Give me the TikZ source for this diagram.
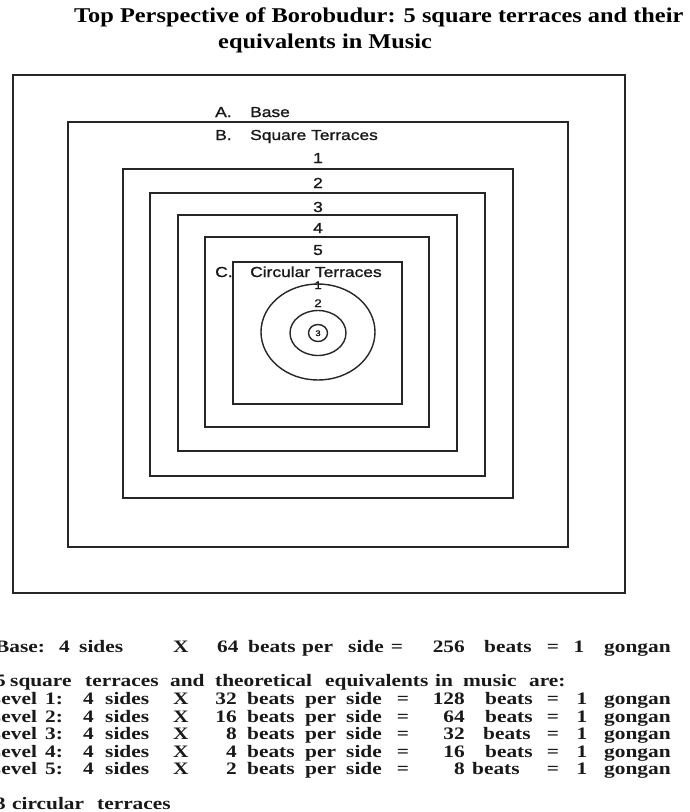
\documentclass[tikz,border=0pt]{standalone}
\usepackage{fontspec}
\newfontfamily\ttlfont[FakeStretch=1.16]{Liberation Serif}
\newfontfamily\lblfont[FakeStretch=1.2,RawFeature={embolden=1.2}]{Liberation Sans}
\newfontfamily\bdyfont[FakeStretch=1.22]{Liberation Serif}
\tikzset{
  terrace/.style={draw=black!85,line width=1.6pt},
  ring/.style={draw=black!85,line width=1.4pt},
  ttl/.style={font=\ttlfont\bfseries\fontsize{21}{24}\selectfont,inner sep=0pt},
  lbl/.style={font=\lblfont\fontsize{14.5}{16}\selectfont,inner sep=0pt,text=black!90},
  smalllbl/.style={font=\lblfont\fontsize{11}{12}\selectfont,inner sep=0pt,text=black!90},
  tinylbl/.style={font=\lblfont\fontsize{8}{9}\selectfont,inner sep=0pt,text=black!90},
  bdy/.style={font=\bdyfont\bfseries\fontsize{17.5}{18}\selectfont,inner sep=0pt,text=black!90},
}
\newcommand\bwL[4]{\node[bdy,anchor=base west] (#1) at (#2,#3) {#4};}
\newcommand\bwC[4]{\node[bdy,anchor=base] (#1) at (#2,#3) {#4};}
\newcommand\bwR[4]{\node[bdy,anchor=base east] (#1) at (#2,#3) {#4};}
\begin{document}
\begin{tikzpicture}[x=1pt,y=-1pt]
\useasboundingbox (0,0) rectangle (689,812);
\clip (0,0) rectangle (689,812);
\fill[white] (0,0) rectangle (689,812);
% title
\node[ttl,anchor=base west] (t1) at (74,22) {Top Perspective of Borobudur: 5 square terraces and their};
\node[ttl,anchor=base west] (t2) at (218,48) {equivalents in Music};
% terraces
\draw[terrace] (13,75) rectangle (625,593);
\draw[terrace] (68,122) rectangle (568,547);
\draw[terrace] (123,169) rectangle (513,498);
\draw[terrace] (150,193) rectangle (485,476);
\draw[terrace] (178,215) rectangle (457,451);
\draw[terrace] (205,237) rectangle (429,427);
\draw[terrace] (233,262) rectangle (402,404);
% circles
\draw[ring] (318,332) ellipse [x radius=57,y radius=48];
\draw[ring] (318,333) ellipse [x radius=28,y radius=22.5];
\draw[ring] (318,333) ellipse [x radius=9.5,y radius=8.5];
% labels
\node[lbl,anchor=base west] (la) at (215,117) {A.};
\node[lbl,anchor=base west] (lbase) at (250,117) {Base};
\node[lbl,anchor=base west] (lb) at (215,140) {B.};
\node[lbl,anchor=base west] (lsq) at (250,140) {Square Terraces};
\node[lbl,anchor=base] (n1) at (318,163) {1};
\node[lbl,anchor=base] (n2) at (318,188) {2};
\node[lbl,anchor=base] (n3) at (318,212) {3};
\node[lbl,anchor=base] (n4) at (318,233) {4};
\node[lbl,anchor=base] (n5) at (318,255) {5};
\node[lbl,anchor=base west] (lc) at (215,277) {C.};
\node[lbl,anchor=base west] (lci) at (250,277) {Circular Terraces};
\node[smalllbl,anchor=base] (c1) at (318,289) {1};
\node[smalllbl,anchor=base] (c2) at (318,307) {2};
\node[tinylbl,anchor=base] (c3) at (318,336) {3};
% bottom text: base
\bwL{a1}{-5}{652}{Base:}
\bwL{a2}{59}{652}{4}
\bwL{a3}{79}{652}{sides}
\bwL{a4}{173}{652}{X}
\bwL{a5}{217}{652}{64}
\bwL{a6}{248}{652}{beats}
\bwL{a7}{302}{652}{per}
\bwL{a8}{348}{652}{side}
\bwC{a9}{397}{652}{=}
\bwR{a10}{465}{652}{256}
\bwL{a11}{484}{652}{beats}
\bwC{a12}{553}{652}{=}
\bwC{a13}{579}{652}{1}
\bwL{a14}{604}{652}{gongan}
% heading line
\bwL{h1}{-5}{686}{5}
\bwL{h2}{10}{686}{square}
\bwL{h3}{85}{686}{terraces}
\bwL{h4}{170}{686}{and}
\bwL{h5}{215}{686}{theoretical}
\bwL{h6}{325}{686}{equivalents}
\bwL{h7}{435}{686}{in}
\bwL{h8}{463}{686}{music}
\bwL{h9}{529}{686}{are:}
% levels
\foreach \lv/\yy/\bp/\tot/\bx in {1/704/32/128/485,2/722/16/64/485,3/739/8/32/483,4/757/4/16/485,5/774/2/8/472}{
  \node[bdy,anchor=base west] (lvA\lv) at (-13,\yy) {Level};
  \node[bdy,anchor=base west] (lvB\lv) at (45,\yy) {\lv:};
  \node[bdy,anchor=base west] (lvC\lv) at (83,\yy) {4};
  \node[bdy,anchor=base west] (lvD\lv) at (105,\yy) {sides};
  \node[bdy,anchor=base west] (lvE\lv) at (173,\yy) {X};
  \node[bdy,anchor=base east] (lvF\lv) at (237,\yy) {\bp};
  \node[bdy,anchor=base west] (lvG\lv) at (247,\yy) {beats};
  \node[bdy,anchor=base west] (lvH\lv) at (305,\yy) {per};
  \node[bdy,anchor=base west] (lvI\lv) at (346,\yy) {side};
  \node[bdy,anchor=base] (lvJ\lv) at (403,\yy) {=};
  \node[bdy,anchor=base east] (lvK\lv) at (465,\yy) {\tot};
  \node[bdy,anchor=base west] (lvL\lv) at (\bx,\yy) {beats};
  \node[bdy,anchor=base] (lvM\lv) at (553,\yy) {=};
  \node[bdy,anchor=base] (lvN\lv) at (582,\yy) {1};
  \node[bdy,anchor=base west] (lvO\lv) at (604,\yy) {gongan};
}
% circular terraces line
\bwL{r1}{-5}{809}{3}
\bwL{r2}{12}{809}{circular}
\bwL{r3}{97}{809}{terraces}
\end{tikzpicture}
\end{document}
